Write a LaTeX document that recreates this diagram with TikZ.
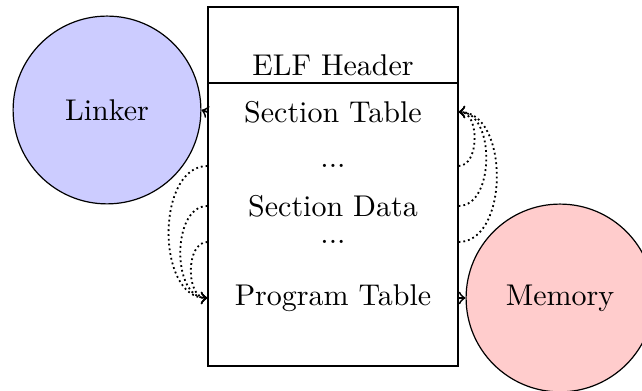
\documentclass[tikz,border=0pt]{standalone}
\begin{document}
\begin{tikzpicture}[x=0.33333pt,y=-0.33333pt,
  bubble/.style={circle,draw=black,thin,minimum size=62.6pt,inner sep=0pt},
  row/.style={minimum width=83.33pt,inner sep=0pt,minimum height=0pt},
  link/.style={->,semithick},
  dlink/.style={->,semithick,densely dotted}]
\useasboundingbox (0,0) rectangle (642,391);
\node[draw,thin,minimum width=83.33pt,minimum height=119.67pt,inner sep=0pt] (box) at (333,186.5) {};
\draw[thick] (208,83) -- (458,83);
\node[bubble,fill=blue!20] (linker) at (107,110) {Linker};
\node[bubble,fill=red!20] (mem) at (560,298) {Memory};
\node[row] (eh) at (333,65.5) {ELF Header};
\node[row] (st) at (333,112) {Section Table};
\node[row] (d1) at (333,166) {...};
\node[row] (sd) at (333,206) {Section Data};
\node[row] (d2) at (333,242) {...};
\node[row] (pt) at (333,298) {Program Table};
\draw[link] (st.west) -- (linker.east);
\draw[link] (pt.east) -- (mem.west);
\draw[dlink] (d1.west) to[out=180,in=180] (pt.west);
\draw[dlink] (sd.west) to[out=180,in=180] (pt.west);
\draw[dlink] (d2.west) to[out=180,in=180] (pt.west);
\draw[dlink] (d1.east) to[out=0,in=0] (st.east);
\draw[dlink] (sd.east) to[out=0,in=0] (st.east);
\draw[dlink] (d2.east) to[out=0,in=0] (st.east);
\end{tikzpicture}
\end{document}
